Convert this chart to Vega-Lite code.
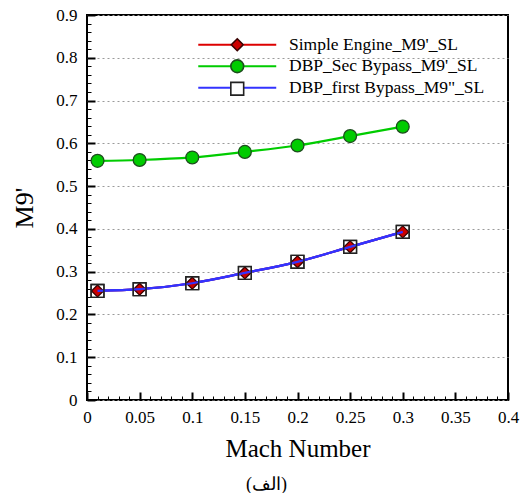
{
  "$schema": "https://vega.github.io/schema/vega-lite/v6.json",
  "width": 421,
  "height": 385,
  "autosize": {"type": "none"},
  "padding": {"left": 87, "top": 15, "right": 13, "bottom": 93},
  "background": "white",
  "config": {
    "font": "Liberation Serif",
    "view": {"stroke": "black", "strokeWidth": 2}
  },
  "title": {
    "text": "(الف)",
    "orient": "bottom",
    "anchor": "middle",
    "frame": "group",
    "dx": -31,
    "offset": 15,
    "fontSize": 18,
    "fontWeight": "normal",
    "font": "Liberation Serif",
    "color": "black"
  },
  "data": {
    "values": [
      {"mach": 0.01, "m9": 0.255, "series": "Simple Engine_M9'_SL"},
      {"mach": 0.05, "m9": 0.259, "series": "Simple Engine_M9'_SL"},
      {"mach": 0.1, "m9": 0.273, "series": "Simple Engine_M9'_SL"},
      {"mach": 0.15, "m9": 0.297, "series": "Simple Engine_M9'_SL"},
      {"mach": 0.2, "m9": 0.323, "series": "Simple Engine_M9'_SL"},
      {"mach": 0.25, "m9": 0.358, "series": "Simple Engine_M9'_SL"},
      {"mach": 0.3, "m9": 0.393, "series": "Simple Engine_M9'_SL"},
      {"mach": 0.01, "m9": 0.559, "series": "DBP_Sec Bypass_M9'_SL"},
      {"mach": 0.05, "m9": 0.561, "series": "DBP_Sec Bypass_M9'_SL"},
      {"mach": 0.1, "m9": 0.567, "series": "DBP_Sec Bypass_M9'_SL"},
      {"mach": 0.15, "m9": 0.58, "series": "DBP_Sec Bypass_M9'_SL"},
      {"mach": 0.2, "m9": 0.595, "series": "DBP_Sec Bypass_M9'_SL"},
      {"mach": 0.25, "m9": 0.617, "series": "DBP_Sec Bypass_M9'_SL"},
      {"mach": 0.3, "m9": 0.639, "series": "DBP_Sec Bypass_M9'_SL"},
      {"mach": 0.01, "m9": 0.255, "series": "DBP_first Bypass_M9\"_SL"},
      {"mach": 0.05, "m9": 0.259, "series": "DBP_first Bypass_M9\"_SL"},
      {"mach": 0.1, "m9": 0.273, "series": "DBP_first Bypass_M9\"_SL"},
      {"mach": 0.15, "m9": 0.297, "series": "DBP_first Bypass_M9\"_SL"},
      {"mach": 0.2, "m9": 0.323, "series": "DBP_first Bypass_M9\"_SL"},
      {"mach": 0.25, "m9": 0.358, "series": "DBP_first Bypass_M9\"_SL"},
      {"mach": 0.3, "m9": 0.393, "series": "DBP_first Bypass_M9\"_SL"}
    ]
  },
  "resolve": {"axis": {"x": "independent", "y": "independent"}},
  "layer": [
    {
      "mark": {"type": "line", "interpolate": "monotone", "strokeWidth": 2.2},
      "encoding": {
        "x": {
          "field": "mach", "type": "quantitative",
          "scale": {"domain": [0, 0.4], "nice": false},
          "axis": {
            "orient": "bottom", "offset": -8,
            "values": [0, 0.05, 0.1, 0.15, 0.2, 0.25, 0.3, 0.35, 0.4],
            "format": "~g",
            "tickSize": 8, "tickWidth": 2, "tickColor": "black",
            "domain": false,
            "labelPadding": 9, "labelFontSize": 17, "labelColor": "black",
            "labelFont": "Liberation Serif", "labelFlush": false, "labelOverlap": false,
            "grid": false,
            "title": "Mach Number", "titleFontSize": 25, "titleFont": "Liberation Serif",
            "titleFontWeight": "normal", "titleColor": "black", "titlePadding": 11
          }
        },
        "y": {
          "field": "m9", "type": "quantitative",
          "scale": {"domain": [0, 0.9], "nice": false},
          "axis": {
            "orient": "left", "offset": -8,
            "values": [0, 0.1, 0.2, 0.3, 0.4, 0.5, 0.6, 0.7, 0.8, 0.9],
            "format": "~g",
            "tickSize": 8, "tickWidth": 2, "tickColor": "black",
            "domain": false,
            "labelPadding": 10, "labelFontSize": 17, "labelColor": "black",
            "labelFont": "Liberation Serif", "labelFlush": false, "labelOverlap": false,
            "grid": false,
            "title": "M9'", "titleFontSize": 26, "titleFont": "Liberation Serif",
            "titleFontWeight": "normal", "titleColor": "black", "titlePadding": 18
          }
        },
        "color": {
          "field": "series", "type": "nominal", "sort": null,
          "scale": {"range": ["#dd0000", "#00cc00", "#3333ff"]},
          "legend": {
            "orient": "none", "legendX": 141.5, "legendY": 21,
            "title": null, "padding": 0,
            "symbolType": "M-6.07,0H-0.97M0.97,0H6.07", "symbolSize": 165, "symbolStrokeWidth": 2,
            "labelFont": "Liberation Serif", "labelFontSize": 17.5, "labelColor": "black",
            "labelOffset": 43, "labelLimit": 400, "rowPadding": 2.5
          }
        }
      }
    },
    {
      "transform": [{"filter": {"field": "m9", "gte": 0}}],
      "mark": {"type": "point", "size": 165, "strokeWidth": 1.3, "opacity": 1},
      "encoding": {
        "x": {
          "field": "mach", "type": "quantitative",
          "axis": {
            "orient": "bottom", "offset": -4,
            "values": [0, 0.01, 0.02, 0.03, 0.04, 0.05, 0.06, 0.07, 0.08, 0.09, 0.1, 0.11, 0.12, 0.13, 0.14, 0.15, 0.16, 0.17, 0.18, 0.19, 0.2, 0.21, 0.22, 0.23, 0.24, 0.25, 0.26, 0.27, 0.28, 0.29, 0.3, 0.31, 0.32, 0.33, 0.34, 0.35, 0.36, 0.37, 0.38, 0.39, 0.4],
            "tickSize": 4, "tickWidth": 1, "tickColor": "black",
            "labels": false, "domain": false, "grid": false, "title": null
          }
        },
        "y": {
          "field": "m9", "type": "quantitative",
          "axis": {
            "orient": "left", "offset": -4,
            "values": [0, 0.02, 0.04, 0.06, 0.08, 0.1, 0.12, 0.14, 0.16, 0.18, 0.2, 0.22, 0.24, 0.26, 0.28, 0.3, 0.32, 0.34, 0.36, 0.38, 0.4, 0.42, 0.44, 0.46, 0.48, 0.5, 0.52, 0.54, 0.56, 0.58, 0.6, 0.62, 0.64, 0.66, 0.68, 0.7, 0.72, 0.74, 0.76, 0.78, 0.8, 0.82, 0.84, 0.86, 0.88, 0.9],
            "tickSize": 4, "tickWidth": 1, "tickColor": "black",
            "labels": false, "domain": false, "grid": false, "title": null
          }
        },
        "shape": {
          "field": "series", "type": "nominal", "sort": null,
          "scale": {"range": ["M0,-0.93L0.93,0L0,0.93L-0.93,0Z", "circle", "square"]},
          "legend": {
            "orient": "none", "legendX": 141.5, "legendY": 21,
            "title": null, "padding": 0, "symbolSize": 165, "symbolStrokeWidth": 1.6,
            "labelFont": "Liberation Serif", "labelFontSize": 17.5, "labelOpacity": 0,
            "labelOffset": 43, "labelLimit": 400, "rowPadding": 2.5
          }
        },
        "fill": {
          "field": "series", "type": "nominal", "sort": null,
          "scale": {"range": ["#cc0000", "#00cc00", "transparent"]},
          "legend": {
            "orient": "none", "legendX": 141.5, "legendY": 21,
            "title": null, "padding": 0, "symbolSize": 165, "symbolStrokeWidth": 1.6,
            "labelFont": "Liberation Serif", "labelFontSize": 17.5, "labelOpacity": 0,
            "labelOffset": 43, "labelLimit": 400, "rowPadding": 2.5
          }
        },
        "stroke": {
          "field": "series", "type": "nominal", "sort": null,
          "scale": {"range": ["#3a0000", "#1d4d1d", "#222222"]},
          "legend": {
            "orient": "none", "legendX": 141.5, "legendY": 21,
            "title": null, "padding": 0, "symbolSize": 165, "symbolStrokeWidth": 1.6,
            "labelFont": "Liberation Serif", "labelFontSize": 17.5, "labelOpacity": 0,
            "labelOffset": 43, "labelLimit": 400, "rowPadding": 2.5
          }
        }
      }
    },
    {
      "transform": [{"filter": {"field": "series", "equal": "DBP_first Bypass_M9\"_SL"}}],
      "mark": {"type": "line", "interpolate": "monotone", "strokeWidth": 2.2, "color": "#3333ff"},
      "encoding": {
        "x": {"field": "mach", "type": "quantitative", "axis": null},
        "y": {
          "field": "m9", "type": "quantitative",
          "axis": {
            "orient": "left",
            "values": [0, 0.1, 0.2, 0.3, 0.4, 0.5, 0.6, 0.7, 0.8, 0.9],
            "grid": true, "gridDash": [2, 3], "gridColor": "#9a9a9a", "gridWidth": 1,
            "ticks": false, "labels": false, "domain": false, "title": null
          }
        }
      }
    },
    {
      "transform": [{"filter": {"field": "series", "equal": "DBP_first Bypass_M9\"_SL"}}],
      "mark": {"type": "point", "shape": "square", "size": 165, "strokeWidth": 1.4, "stroke": "#222222", "fill": "transparent", "opacity": 1},
      "encoding": {
        "x": {"field": "mach", "type": "quantitative", "axis": null},
        "y": {"field": "m9", "type": "quantitative", "axis": null}
      }
    }
  ]
}
